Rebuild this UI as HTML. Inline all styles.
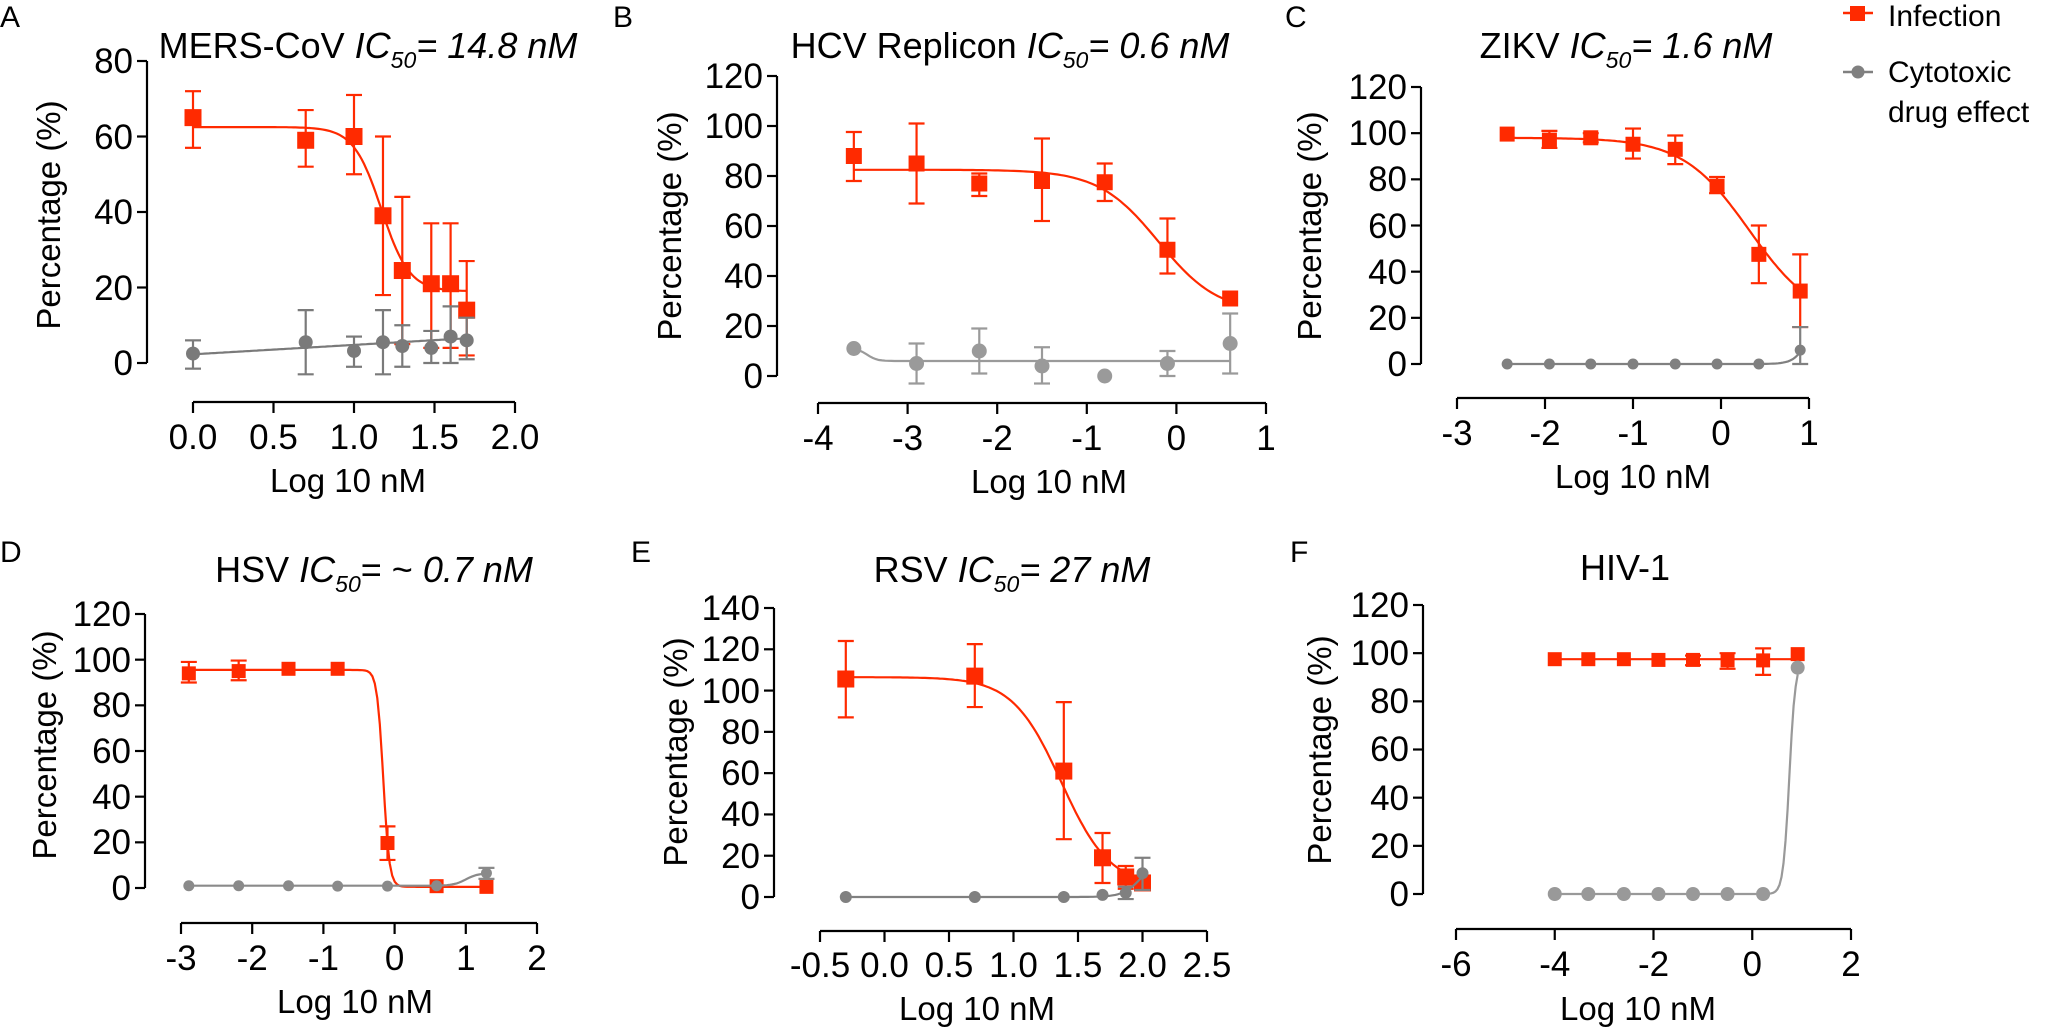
<!DOCTYPE html>
<html><head><meta charset="utf-8"><style>
html,body{margin:0;padding:0;background:#fff;}
svg{display:block;font-family:"Liberation Sans",Arial,sans-serif;}
.t{font-size:33px;fill:#000;}
.k{font-size:35px;fill:#000;}
.ti{font-size:36px;fill:#000;}
.lab{font-size:30px;fill:#000;}
</style></head><body>
<svg id="s" width="2045" height="1029" viewBox="0 0 2045 1029" xmlns="http://www.w3.org/2000/svg">
<g id="g"></g>
<text class="lab" x="0" y="27">A</text>
<text class="lab" x="613" y="27">B</text>
<text class="lab" x="1285" y="27">C</text>
<text class="lab" x="0" y="562">D</text>
<text class="lab" x="631" y="562">E</text>
<text class="lab" x="1290" y="562">F</text>
<text class="ti" x="368" y="58" text-anchor="middle">MERS-CoV <tspan font-style="italic">IC</tspan><tspan font-style="italic" font-size="23" dy="10">50</tspan><tspan font-style="italic" dy="-10">= 14.8 nM</tspan></text>
<text class="ti" x="1010" y="58" text-anchor="middle">HCV Replicon <tspan font-style="italic">IC</tspan><tspan font-style="italic" font-size="23" dy="10">50</tspan><tspan font-style="italic" dy="-10">= 0.6 nM</tspan></text>
<text class="ti" x="1626" y="58" text-anchor="middle">ZIKV <tspan font-style="italic">IC</tspan><tspan font-style="italic" font-size="23" dy="10">50</tspan><tspan font-style="italic" dy="-10">= 1.6 nM</tspan></text>
<text class="ti" x="374" y="582" text-anchor="middle">HSV <tspan font-style="italic">IC</tspan><tspan font-style="italic" font-size="23" dy="10">50</tspan><tspan dy="-10">= ~ </tspan><tspan font-style="italic">0.7 nM</tspan></text>
<text class="ti" x="1012" y="582" text-anchor="middle">RSV <tspan font-style="italic">IC</tspan><tspan font-style="italic" font-size="23" dy="10">50</tspan><tspan font-style="italic" dy="-10">= 27 nM</tspan></text>
<text class="ti" x="1625" y="580" text-anchor="middle">HIV-1</text>
<text class="t" transform="translate(60,215) rotate(-90)" text-anchor="middle">Percentage (%)</text>
<text class="t" transform="translate(681,226) rotate(-90)" text-anchor="middle">Percentage (%)</text>
<text class="t" transform="translate(1321,226) rotate(-90)" text-anchor="middle">Percentage (%)</text>
<text class="t" transform="translate(56,745) rotate(-90)" text-anchor="middle">Percentage (%)</text>
<text class="t" transform="translate(687,752) rotate(-90)" text-anchor="middle">Percentage (%)</text>
<text class="t" transform="translate(1331,750) rotate(-90)" text-anchor="middle">Percentage (%)</text>
<text class="t" x="348" y="492" text-anchor="middle">Log 10 nM</text>
<text class="t" x="1049" y="493" text-anchor="middle">Log 10 nM</text>
<text class="t" x="1633" y="488" text-anchor="middle">Log 10 nM</text>
<text class="t" x="355" y="1013" text-anchor="middle">Log 10 nM</text>
<text class="t" x="977" y="1020" text-anchor="middle">Log 10 nM</text>
<text class="t" x="1638" y="1020" text-anchor="middle">Log 10 nM</text>
<g class="k" text-anchor="end"><text x="133" y="375">0</text><text x="133" y="300">20</text><text x="133" y="224">40</text><text x="133" y="149">60</text><text x="133" y="73">80</text></g>
<g class="k" text-anchor="middle"><text x="193" y="449">0.0</text><text x="273.5" y="449">0.5</text><text x="354" y="449">1.0</text><text x="434.5" y="449">1.5</text><text x="515" y="449">2.0</text></g>
<g class="k" text-anchor="end"><text x="763" y="388">0</text><text x="763" y="338">20</text><text x="763" y="288">40</text><text x="763" y="238">60</text><text x="763" y="188">80</text><text x="763" y="138">100</text><text x="763" y="88">120</text></g>
<g class="k" text-anchor="middle"><text x="818" y="450">-4</text><text x="907.6" y="450">-3</text><text x="997.2" y="450">-2</text><text x="1086.8" y="450">-1</text><text x="1176.4" y="450">0</text><text x="1266" y="450">1</text></g>
<g class="k" text-anchor="end"><text x="1407" y="376">0</text><text x="1407" y="330">20</text><text x="1407" y="284">40</text><text x="1407" y="238">60</text><text x="1407" y="191">80</text><text x="1407" y="145">100</text><text x="1407" y="99">120</text></g>
<g class="k" text-anchor="middle"><text x="1457" y="445">-3</text><text x="1545" y="445">-2</text><text x="1633" y="445">-1</text><text x="1721" y="445">0</text><text x="1809" y="445">1</text></g>
<g class="k" text-anchor="end"><text x="131" y="900">0</text><text x="131" y="854">20</text><text x="131" y="809">40</text><text x="131" y="763">60</text><text x="131" y="717">80</text><text x="131" y="672">100</text><text x="131" y="626">120</text></g>
<g class="k" text-anchor="middle"><text x="181" y="970">-3</text><text x="252.2" y="970">-2</text><text x="323.4" y="970">-1</text><text x="394.6" y="970">0</text><text x="465.8" y="970">1</text><text x="537" y="970">2</text></g>
<g class="k" text-anchor="end"><text x="760" y="909">0</text><text x="760" y="868">20</text><text x="760" y="826">40</text><text x="760" y="785">60</text><text x="760" y="744">80</text><text x="760" y="703">100</text><text x="760" y="661">120</text><text x="760" y="620">140</text></g>
<g class="k" text-anchor="middle"><text x="820" y="977">-0.5</text><text x="884.5" y="977">0.0</text><text x="949" y="977">0.5</text><text x="1013.5" y="977">1.0</text><text x="1078" y="977">1.5</text><text x="1142.5" y="977">2.0</text><text x="1207" y="977">2.5</text></g>
<g class="k" text-anchor="end"><text x="1409" y="906">0</text><text x="1409" y="858">20</text><text x="1409" y="810">40</text><text x="1409" y="761">60</text><text x="1409" y="713">80</text><text x="1409" y="665">100</text><text x="1409" y="617">120</text></g>
<g class="k" text-anchor="middle"><text x="1456" y="976">-6</text><text x="1554.75" y="976">-4</text><text x="1653.5" y="976">-2</text><text x="1752.25" y="976">0</text><text x="1851" y="976">2</text></g>
<line x1="1843" y1="13" x2="1873" y2="13" stroke="#ff2a00" stroke-width="2.5"/>
<rect x="1850" y="6" width="15" height="15" fill="#ff2a00"/>
<text class="lab" x="1888" y="26">Infection</text>
<line x1="1843" y1="72" x2="1873" y2="72" stroke="#808080" stroke-width="2.5"/>
<circle cx="1858" cy="72" r="6.5" fill="#808080"/>
<text class="lab" x="1888" y="82">Cytotoxic</text>
<text class="lab" x="1888" y="122">drug effect</text>
</svg>
<script>
var R='#ff2a00';
var NS='http://www.w3.org/2000/svg',G=document.getElementById('g');
function el(n,a){var e=document.createElementNS(NS,n);for(var k in a)e.setAttribute(k,a[k]);G.appendChild(e);return e;}
function fpl(top,bot,c,h){return function(x){return bot+(top-bot)/(1+Math.pow(10,(x-c)*h));};}
function panel(p){
  var X=function(v){return p.x0+(v-p.xmin)*(p.x1-p.x0)/(p.xmax-p.xmin);};
  var Y=function(v){return p.y0-(v)*(p.y0-p.ytop)/p.ymax;};
  el('line',{x1:p.ax,y1:p.ytop,x2:p.ax,y2:p.y0,stroke:'#000','stroke-width':2.2});
  for(var v=0;v<=p.ymax+0.01;v+=20){el('line',{x1:p.ax-10,y1:Y(v),x2:p.ax,y2:Y(v),stroke:'#000','stroke-width':2.2});}
  el('line',{x1:p.x0,y1:p.xay,x2:p.x1,y2:p.xay,stroke:'#000','stroke-width':2.2});
  p.xt.forEach(function(t){el('line',{x1:X(t),y1:p.xay,x2:X(t),y2:p.xay+11,stroke:'#000','stroke-width':2.2});});
  p.series.forEach(function(s){
    var d='';var n=120;
    for(var i=0;i<=n;i++){var x=s.cx[0]+(s.cx[1]-s.cx[0])*i/n;d+=(i?'L':'M')+X(x).toFixed(1)+' '+Y(s.f(x)).toFixed(1);}
    el('path',{d:d,fill:'none',stroke:s.col,'stroke-width':2.2});
    s.pts.forEach(function(q){
      var x=X(q[0]);
      if(q.length>2){
        el('line',{x1:x,y1:Y(q[2]),x2:x,y2:Y(q[3]),stroke:s.col,'stroke-width':2.2});
        [q[2],q[3]].forEach(function(e){el('line',{x1:x-8,y1:Y(e),x2:x+8,y2:Y(e),stroke:s.col,'stroke-width':2.2});});
      }
      if(s.sq){el('rect',{x:x-s.sz/2,y:Y(q[1])-s.sz/2,width:s.sz,height:s.sz,fill:s.col});}
      else el('circle',{cx:x,cy:Y(q[1]),r:s.sz/2,fill:s.col});
    });
  });
}
panel({ax:147,ytop:61,y0:363,ymax:80,x0:193,x1:515,xmin:0,xmax:2,xay:402,xt:[0,0.5,1,1.5,2],series:[
 {col:R,sq:1,sz:17,cx:[0,1.7],f:fpl(62.5,19,1.17,5),pts:[[0,65,72,57],[0.7,59,67,52],[1.0,60,71,50],[1.18,39,60,18],[1.3,24.5,44,5],[1.48,21,37,4],[1.6,21,37,4],[1.7,14,27,2]]},
 {col:'#7a7a7a',sq:0,sz:14,cx:[0,1.7],f:function(x){return 2.3+x*2.5;},pts:[[0,2.5,6,-1.5],[0.7,5.5,14,-3],[1.0,3.2,7,-1],[1.18,5.5,14,-3],[1.3,4.5,10,-1],[1.48,4,8.5,0],[1.6,7,15,0],[1.7,6,12,1]]}
]});
panel({ax:777,ytop:76,y0:376,ymax:120,x0:818,x1:1266,xmin:-4,xmax:1,xay:403,xt:[-4,-3,-2,-1,0,1],series:[
 {col:R,sq:1,sz:16,cx:[-3.6,0.6],f:fpl(82.5,25,-0.2,1.3),pts:[[-3.6,88,97.6,78],[-2.9,85,101,69],[-2.2,77,81,72],[-1.5,78,95,62],[-0.8,77.5,85,70],[-0.1,50.5,63,41],[0.6,31]]},
 {col:'#9a9a9a',sq:0,sz:15,cx:[-3.6,0.6],f:function(x){return 6+5/(1+Math.pow(10,(x+3.45)*8));},pts:[[-3.6,11],[-2.9,5,13,-3],[-2.2,10,19,1],[-1.5,4,11.5,-3],[-0.8,0],[-0.1,5,10,0],[0.6,13,25,1]]}
]});
panel({ax:1421,ytop:87,y0:364,ymax:120,x0:1457,x1:1809,xmin:-3,xmax:1,xay:398,xt:[-3,-2,-1,0,1],series:[
 {col:R,sq:1,sz:15,cx:[-2.43,0.9],f:fpl(98,18,0.32,1.15),pts:[[-2.43,99.6],[-1.95,97,101,93.6],[-1.48,98,100,96],[-1.0,95.2,102,89],[-0.52,93,99,86.6],[-0.045,77,81,74],[0.43,47.5,60,35],[0.9,31.6,47.5,16]]},
 {col:'#808080',sq:0,sz:11,cx:[-2.43,0.9],f:function(x){return 100/(1+Math.pow(10,(1.15-x)*5));},pts:[[-2.43,0],[-1.95,0],[-1.48,0],[-1.0,0],[-0.52,0],[-0.045,0],[0.43,0],[0.9,6,16,0]]}
]});
panel({ax:145,ytop:614,y0:888,ymax:120,x0:181,x1:537,xmin:-3,xmax:2,xay:923,xt:[-3,-2,-1,0,1,2],series:[
 {col:R,sq:1,sz:14,cx:[-2.89,1.29],f:fpl(95.5,0.5,-0.16,10),pts:[[-2.89,94,99,90],[-2.19,95,99.6,91],[-1.49,96],[-0.8,96],[-0.1,19.7,27,12.3],[0.59,0.8],[1.29,0.5]]},
 {col:'#8a8a8a',sq:0,sz:11,cx:[-2.89,1.29],f:function(x){return 1+5.5/(1+Math.pow(10,(1.0-x)*5));},pts:[[-2.89,1],[-2.19,1],[-1.49,1],[-0.8,0.8],[-0.1,0.8],[0.59,1],[1.29,6.5,8.8,4]]}
]});
panel({ax:774,ytop:608,y0:897,ymax:140,x0:820,x1:1207,xmin:-0.5,xmax:2.5,xay:931,xt:[-0.5,0,0.5,1,1.5,2,2.5],series:[
 {col:R,sq:1,sz:17,cx:[-0.3,2.0],f:fpl(106.5,5,1.37,2.3),pts:[[-0.3,105.6,124,87],[0.7,107,122.5,92],[1.39,61,94.4,28],[1.69,19,31,6.8],[1.87,9.7,15,4],[2.0,6.8]]},
 {col:'#808080',sq:0,sz:12,cx:[-0.3,2.0],f:function(x){return 20/(1+Math.pow(10,(2.0-x)*6));},pts:[[-0.3,0],[0.7,0],[1.39,0],[1.69,1],[1.87,2,5,-1],[2.0,11.5,19,3.4]]}
]});
panel({ax:1423,ytop:605,y0:894,ymax:120,x0:1456,x1:1851,xmin:-6,xmax:2,xay:929,xt:[-6,-4,-2,0,2],series:[
 {col:R,sq:1,sz:14,cx:[-4,0.92],f:function(x){return 97.5;},pts:[[-4,97.5],[-3.32,97.5],[-2.6,97.5],[-1.9,97.2],[-1.2,97.2,99,95],[-0.5,97,100,93.5],[0.22,97,102,91],[0.92,99.6]]},
 {col:'#999999',sq:0,sz:14,cx:[-4,0.92],f:function(x){return 97/(1+Math.pow(10,(0.75-x)*7));},pts:[[-4,0],[-3.32,0],[-2.6,0],[-1.9,0],[-1.2,0],[-0.5,0],[0.22,0],[0.92,94]]}
]});
</script>
</body></html>
